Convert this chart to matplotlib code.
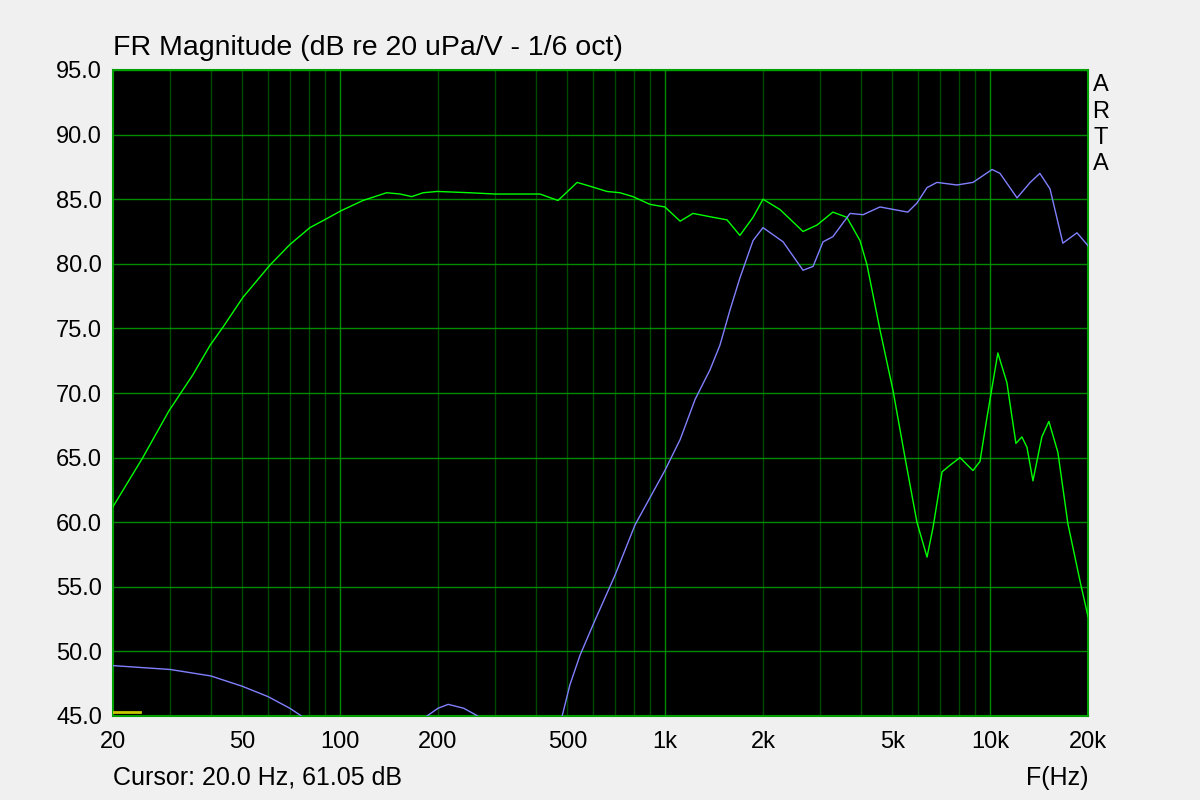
#!/usr/bin/env python3

import matplotlib
matplotlib.use('Agg')
from matplotlib import pyplot as plt
from matplotlib.ticker import FixedLocator, NullFormatter

# Woofer response (green), frequency in Hz and level in dB
woofer_f = [20, 24.7, 29.7, 35.2, 39.8, 43.6, 50.2, 60.8, 70.1, 80.7, 91, 100.5,
            117.5, 139, 153, 166, 180, 199, 250, 300, 350, 412, 468, 536, 588, 662,
            726, 796, 898, 998, 1112, 1218, 1404, 1550, 1698, 1864, 2000, 2256,
            2656, 2932, 3281, 3622, 3976, 4180, 4580, 5024, 5470, 5952, 6394,
            6672, 7112, 7520, 8072, 8852, 9304, 9776, 10560, 11260, 12000, 12520,
            12980, 13540, 14420, 15160, 16160, 17340, 18880, 20000]
woofer_db = [61.2, 65.0, 68.6, 71.4, 73.7, 75.1, 77.4, 79.9, 81.5, 82.8, 83.5, 84.1,
             84.9, 85.5, 85.4, 85.2, 85.5, 85.6, 85.5, 85.4, 85.4, 85.4, 84.9, 86.3,
             86.0, 85.6, 85.5, 85.2, 84.6, 84.4, 83.3, 83.9, 83.6, 83.4, 82.2, 83.6,
             85.0, 84.2, 82.5, 83.0, 84.0, 83.6, 81.8, 79.9, 74.9, 70.2, 65.0, 60.0,
             57.3, 59.6, 63.9, 64.4, 65.0, 64.0, 64.7, 68.1, 73.1, 70.8, 66.1, 66.6,
             65.8, 63.2, 66.6, 67.8, 65.4, 59.9, 55.5, 52.7]

# Tweeter response (blue), low end dips below the visible range
tweeter_f = [20, 30, 40, 50, 60, 70, 76, 100, 150, 185, 200, 215, 240, 265, 350,
             440, 482, 509, 547, 608, 701, 808, 898, 998, 1112, 1236, 1374, 1474,
             1582, 1698, 1864, 2000, 2306, 2656, 2852, 3060, 3281, 3706, 4064, 4580,
             5580, 5952, 6394, 6860, 7900, 8852, 10140, 10720, 12100, 13280, 14220,
             15280, 16740, 18500, 20000]
tweeter_db = [48.9, 48.6, 48.1, 47.3, 46.5, 45.6, 45.0, 42.0, 43.5, 45.0, 45.6, 45.9,
              45.6, 45.0, 41.0, 42.0, 45.0, 47.4, 49.7, 52.4, 55.9, 59.8, 61.9, 64.0,
              66.4, 69.5, 71.8, 73.7, 76.4, 78.9, 81.8, 82.8, 81.7, 79.5, 79.8, 81.7,
              82.1, 83.9, 83.8, 84.4, 84.0, 84.7, 85.9, 86.3, 86.1, 86.3, 87.3, 87.0,
              85.1, 86.3, 87.0, 85.8, 81.6, 82.4, 81.4]

# Short yellow trace at the bottom left
marker_f = [20, 24.2]
marker_db = [45.3, 45.3]

y_ticks = [45, 50, 55, 60, 65, 70, 75, 80, 85, 90, 95]
x_ticks = [20, 50, 100, 200, 500, 1000, 2000, 5000, 10000, 20000]
x_labels = ['20', '50', '100', '200', '500', '1k', '2k', '5k', '10k', '20k']
minor_f = [30, 40, 50, 60, 70, 80, 90, 200, 300, 400, 500, 600, 700, 800, 900,
           2000, 3000, 4000, 5000, 6000, 7000, 8000, 9000]
major_f = [100, 1000, 10000]

plt.rcParams['font.family'] = ['Liberation Sans', 'DejaVu Sans']

fig = plt.figure(figsize=(12, 8), dpi=100, facecolor='#f0f0f0')
ax = fig.add_axes([113 / 1200, 84 / 800, 975 / 1200, 646 / 800])
ax.set_facecolor('black')
ax.set_xscale('log')
ax.set_xlim(20, 20000)
ax.set_ylim(45, 95)

# grid: bright green for the decades and dB lines, dark green for the rest
for f in minor_f:
    ax.axvline(f, color='#004a00', lw=1.0, zorder=1)
for f in major_f:
    ax.axvline(f, color='#008a00', lw=1.0, zorder=1)
for y in y_ticks:
    ax.axhline(y, color='#008a00', lw=1.0, zorder=1)

ax.plot(woofer_f, woofer_db, color='#00ff00', lw=1.0, zorder=3)
ax.plot(tweeter_f, tweeter_db, color='#8080ff', lw=1.0, zorder=3)
ax.plot(marker_f, marker_db, color='#c8c800', lw=2, zorder=4)

ax.xaxis.set_major_locator(FixedLocator(x_ticks))
ax.set_xticklabels(x_labels)
ax.xaxis.set_minor_formatter(NullFormatter())
ax.set_yticks(y_ticks)
ax.set_yticklabels(['%.1f' % v for v in y_ticks])
ax.tick_params(axis='both', which='both', length=0, labelsize=17, colors='black')
ax.tick_params(axis='y', pad=8)
ax.tick_params(axis='x', pad=11)
ax.minorticks_off()

for spine in ax.spines.values():
    spine.set_color('#00a000')
    spine.set_linewidth(1.5)

fig.text(113 / 1200, 1 - 48 / 800, 'FR Magnitude (dB re 20 uPa/V - 1/6 oct)',
         fontsize=20.5, va='center', ha='left')
fig.text(113 / 1200, 1 - 778 / 800, 'Cursor: 20.0 Hz, 61.05 dB',
         fontsize=18, va='center', ha='left')
fig.text(1088 / 1200, 1 - 778 / 800, 'F(Hz)', fontsize=18, va='center', ha='right')
for i, ch in enumerate('ARTA'):
    fig.text(1101 / 1200, 1 - (85 + 26.5 * i) / 800, ch, fontsize=17,
             va='center', ha='center')

fig.savefig('out.png', dpi=100, facecolor=fig.get_facecolor())
